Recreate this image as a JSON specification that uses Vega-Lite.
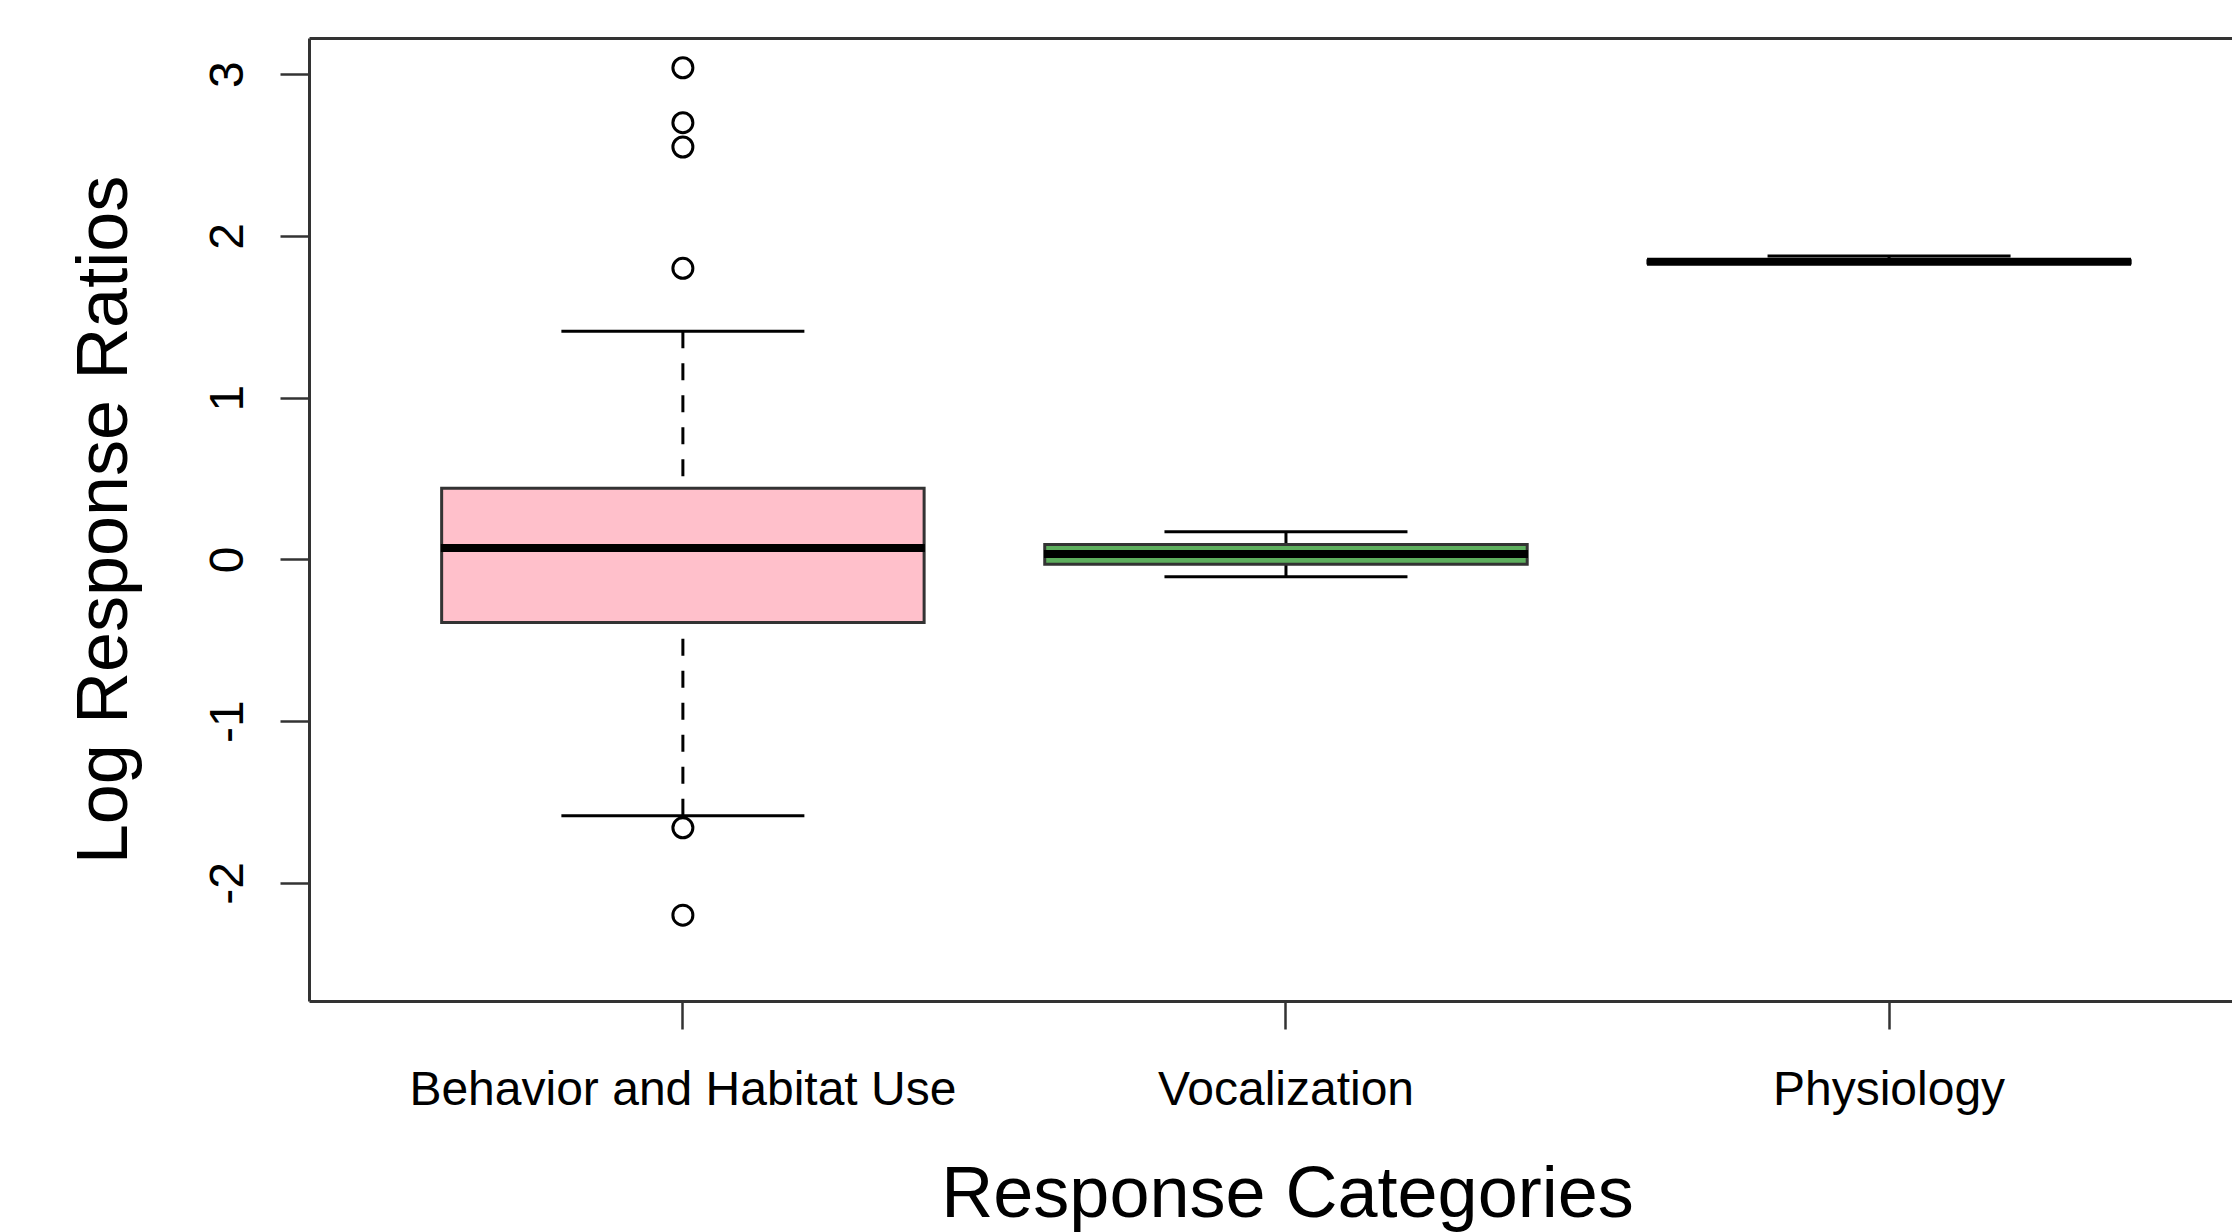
{
  "$schema": "https://vega.github.io/schema/vega-lite/v6.json",
  "width": 1923,
  "height": 963,
  "autosize": {"type": "none"},
  "padding": {"left": 309, "top": 38, "right": 0, "bottom": 231},
  "background": "white",
  "config": {
    "view": {"stroke": null},
    "font": "Liberation Sans",
    "axis": {
      "grid": false,
      "labelFont": "Liberation Sans",
      "titleFont": "Liberation Sans",
      "labelColor": "#000",
      "titleColor": "#000",
      "domainColor": "#333",
      "domainWidth": 3,
      "tickColor": "#333",
      "tickWidth": 2.5,
      "labelFontSize": 48,
      "titleFontSize": 72,
      "titleFontWeight": "normal"
    }
  },
  "datasets": {
    "stats": [
      {"category": "Behavior and Habitat Use", "lo": -1.586, "q1": -0.39, "median": 0.07, "q3": 0.44, "hi": 1.41},
      {"category": "Vocalization", "lo": -0.108, "q1": -0.03, "median": 0.033, "q3": 0.092, "hi": 0.17},
      {"category": "Physiology", "lo": 1.83, "q1": 1.832, "median": 1.84, "q3": 1.846, "hi": 1.876}
    ],
    "outliers": [
      {"category": "Behavior and Habitat Use", "value": 3.04},
      {"category": "Behavior and Habitat Use", "value": 2.70},
      {"category": "Behavior and Habitat Use", "value": 2.55},
      {"category": "Behavior and Habitat Use", "value": 1.80},
      {"category": "Behavior and Habitat Use", "value": -1.66},
      {"category": "Behavior and Habitat Use", "value": -2.20}
    ]
  },
  "layer": [
    {
      "data": {"name": "stats"},
      "mark": {"type": "rule", "color": "#000", "strokeWidth": 3, "strokeDash": [17, 15]},
      "encoding": {
        "x": {
          "field": "category", "type": "nominal",
          "scale": {"type": "band", "domain": ["Behavior and Habitat Use", "Vocalization", "Physiology"], "paddingInner": 0, "paddingOuter": 0.0943, "align": 0.636, "round": false},
          "axis": {
            "title": "Response Categories", "orient": "bottom", "tickSize": 28, "labelAngle": 0,
            "labelAlign": "center", "labelBaseline": "alphabetic", "labelPadding": 75, "labelLimit": 0,
            "labelOverlap": false, "titleX": 978, "titleY": 215, "titleAlign": "center", "titleBaseline": "alphabetic"
          }
        },
        "y": {
          "field": "hi", "type": "quantitative",
          "scale": {"domain": [-2.731, 3.224], "nice": false, "zero": false},
          "axis": {
            "title": "Log Response Ratios", "values": [-2, -1, 0, 1, 2, 3], "tickSize": 29,
            "labelAngle": 270, "labelAlign": "center", "labelBaseline": "alphabetic", "labelPadding": 38,
            "labelFlush": false, "labelOverlap": false,
            "labelExpr": "datum.value < 0 ? '-' + abs(datum.value) : '' + datum.value",
            "titleAngle": 270, "titleX": -183, "titleY": 481.5, "titleAlign": "center", "titleBaseline": "alphabetic"
          }
        },
        "y2": {"field": "q3"}
      }
    },
    {
      "data": {"name": "stats"},
      "mark": {"type": "rule", "color": "#000", "strokeWidth": 3, "strokeDash": [17, 15]},
      "encoding": {
        "x": {"field": "category", "type": "nominal", "axis": null},
        "y": {"field": "lo", "type": "quantitative"},
        "y2": {"field": "q1"}
      }
    },
    {
      "data": {"name": "stats"},
      "mark": {"type": "tick", "orient": "horizontal", "size": 243, "thickness": 3, "color": "#000", "opacity": 1},
      "encoding": {
        "x": {"field": "category", "type": "nominal", "axis": null},
        "y": {"field": "hi", "type": "quantitative"}
      }
    },
    {
      "data": {"name": "stats"},
      "mark": {"type": "tick", "orient": "horizontal", "size": 243, "thickness": 3, "color": "#000", "opacity": 1},
      "encoding": {
        "x": {"field": "category", "type": "nominal", "axis": null},
        "y": {"field": "lo", "type": "quantitative"}
      }
    },
    {
      "data": {"name": "stats"},
      "mark": {"type": "bar", "width": {"band": 0.8}, "stroke": "#333", "strokeWidth": 3, "opacity": 1},
      "encoding": {
        "x": {"field": "category", "type": "nominal", "axis": null},
        "y": {"field": "q1", "type": "quantitative"},
        "y2": {"field": "q3"},
        "color": {
          "field": "category", "type": "nominal",
          "scale": {"domain": ["Behavior and Habitat Use", "Vocalization", "Physiology"], "range": ["#FFC0CB", "#5DAE5D", "#ADD8E6"]},
          "legend": null
        }
      }
    },
    {
      "data": {"name": "stats"},
      "mark": {"type": "tick", "orient": "horizontal", "size": 484, "thickness": 8, "color": "#000", "opacity": 1},
      "encoding": {
        "x": {"field": "category", "type": "nominal", "axis": null},
        "y": {"field": "median", "type": "quantitative"}
      }
    },
    {
      "data": {"name": "outliers"},
      "mark": {"type": "point", "shape": "circle", "filled": false, "stroke": "#000", "strokeWidth": 3, "size": 400, "opacity": 1},
      "encoding": {
        "x": {"field": "category", "type": "nominal", "axis": {"orient": "top", "title": null, "labels": false, "ticks": false, "domain": true}},
        "y": {"field": "value", "type": "quantitative"}
      }
    }
  ],
  "resolve": {"axis": {"x": "independent"}}
}
